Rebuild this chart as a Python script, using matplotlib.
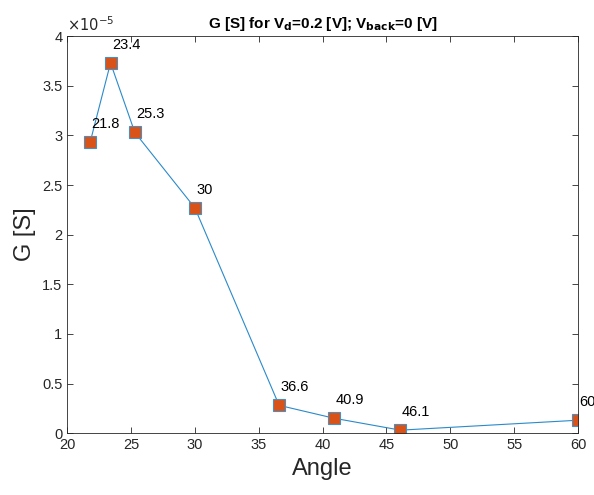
import numpy as np
import matplotlib.pyplot as plt
from matplotlib.ticker import FuncFormatter

plt.rcParams['font.family'] = ['Liberation Sans', 'DejaVu Sans']

angle = [21.8, 23.4, 25.3, 30, 36.6, 40.9, 46.1, 60]
G = [2.93e-5, 3.73e-5, 3.03e-5, 2.27e-5, 0.28e-5, 0.15e-5, 0.03e-5, 0.13e-5]
labels = ['21.8', '23.4', '25.3', '30', '36.6', '40.9', '46.1', '60']

fig = plt.figure(figsize=(5.94, 4.95), dpi=100)
ax = fig.add_axes([0.113, 0.125, 0.86, 0.802])
ax.plot(angle, G, '-s', color='#2a8acb', lw=0.8, markersize=9,
        markerfacecolor='#D95319', markeredgecolor='#4a8fc0', markeredgewidth=0.8)
for a, g, t in zip(angle, G, labels):
    ax.annotate(t, (a, g), xytext=(1, 8), textcoords='offset points',
                ha='left', va='bottom', fontsize=10.5, color='black')

ax.set_xlim(20, 60)
ax.set_ylim(0, 4e-5)
ax.set_xticks(np.arange(20, 61, 5))
ax.set_yticks(np.arange(0, 4.01e-5, 0.5e-5))
ax.yaxis.set_major_formatter(FuncFormatter(lambda v, p: f"{v/1e-5:g}"))
ax.text(0.0, 1.005, r'$\times10^{-5}$', transform=ax.transAxes, fontsize=10.5,
        color='#262626', ha='left', va='bottom')

ax.tick_params(direction='in', top=True, right=True, labelsize=10.5,
               colors='#262626', length=4, width=0.6)
for s in ax.spines.values():
    s.set_color('#262626')
    s.set_linewidth(0.6)

ax.set_xlabel('Angle', fontsize=17, color='#262626')
ax.set_ylabel('G [S]', fontsize=17, color='#262626')
ax.set_title(r'G [S] for V$_\mathbf{d}$=0.2 [V]; V$_\mathbf{back}$=0 [V]',
             fontsize=11, fontweight='bold', color='black')
fig.savefig('out.png', dpi=100)
